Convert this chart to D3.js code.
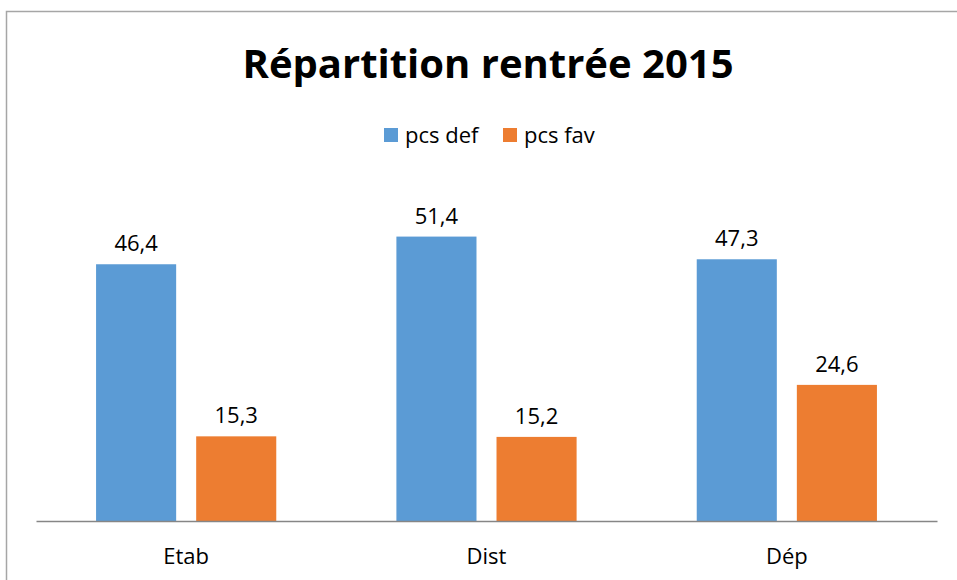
<!DOCTYPE html>
<html>
<head>
<meta charset="utf-8">
<script src="https://cdn.jsdelivr.net/npm/d3@7"></script>
<style>
  body { margin: 0; background: #fff; }
  text { font-family: "Open Sans", "DejaVu Sans", sans-serif; fill: #000; }
</style>
</head>
<body>
<div class="data-board"></div>
<script>
var width = 957;
var height = 580;

// data
var categories = ['Etab', 'Dist', 'Dép'];
var seriesNames = ['pcs def', 'pcs fav'];
var pcsDef = [46.4, 51.4, 47.3];
var pcsFav = [15.3, 15.2, 24.6];
var colors = ['#5B9BD5', '#ED7D31'];

var rows = categories.map((c, i) => ({cat: c, vals: [pcsDef[i], pcsFav[i]]}));

var chart = d3.select('.data-board')
              .append('svg')
              .attr('width', width)
              .attr('height', height);

// outer frame
chart.append('rect')
     .attr('x', 6.5).attr('y', 11.5)
     .attr('width', 960).attr('height', 600)
     .attr('fill', 'none')
     .attr('stroke', '#a6a6a6')
     .attr('stroke-width', 1.5);

var plotLeft = 36, plotRight = 937, baseY = 521;

var XScale = d3.scaleBand()
               .domain(categories)
               .range([plotLeft, plotRight])
               .paddingInner(0.4)
               .paddingOuter(0.2);

var inner = d3.scaleBand()
              .domain(d3.range(seriesNames.length))
              .range([0, XScale.bandwidth()])
              .paddingInner(0.2);

var YScale = d3.scaleLinear()
               .domain([0, 60])
               .range([baseY, 189]);

// title
chart.append('text')
     .attr('x', 488).attr('y', 78)
     .attr('text-anchor', 'middle')
     .attr('font-size', 40)
     .attr('font-weight', 'bold')
     .text('Répartition rentrée 2015');

// legend
var legend = chart.append('g').attr('transform', 'translate(384,128)');
var legendX = [0, 119];
seriesNames.forEach((s, i) => {
  var g = legend.append('g').attr('transform', `translate(${legendX[i]},0)`);
  g.append('rect').attr('width', 14).attr('height', 14).attr('fill', colors[i]);
  g.append('text').attr('x', 21).attr('y', 15)
   .attr('font-size', 22).text(s);
});

// bars
var groups = chart.selectAll('.grp')
  .data(rows)
  .enter()
  .append('g')
  .attr('class', 'grp')
  .attr('transform', d => `translate(${XScale(d.cat)},0)`);

groups.selectAll('rect')
  .data(d => d.vals)
  .enter()
  .append('rect')
  .attr('x', (d, i) => inner(i))
  .attr('y', d => YScale(d))
  .attr('width', inner.bandwidth())
  .attr('height', d => baseY - YScale(d))
  .attr('fill', (d, i) => colors[i]);

groups.selectAll('.lbl')
  .data(d => d.vals)
  .enter()
  .append('text')
  .attr('class', 'lbl')
  .attr('x', (d, i) => inner(i) + inner.bandwidth() / 2)
  .attr('y', d => YScale(d) - 13)
  .attr('text-anchor', 'middle')
  .attr('font-size', 22)
  .text(d => String(d).replace('.', ','));

// x axis
var XAxis = d3.axisBottom(XScale).tickSize(0).tickPadding(27);
var ax = chart.append('g')
     .attr('transform', `translate(0,${baseY})`)
     .call(XAxis);
ax.select('.domain').attr('stroke', '#868686').attr('stroke-width', 1.5);
ax.selectAll('text')
  .attr('font-size', 22)
  .attr('font-family', '"Open Sans", sans-serif')
  .attr('fill', '#000');
</script>
</body>
</html>
